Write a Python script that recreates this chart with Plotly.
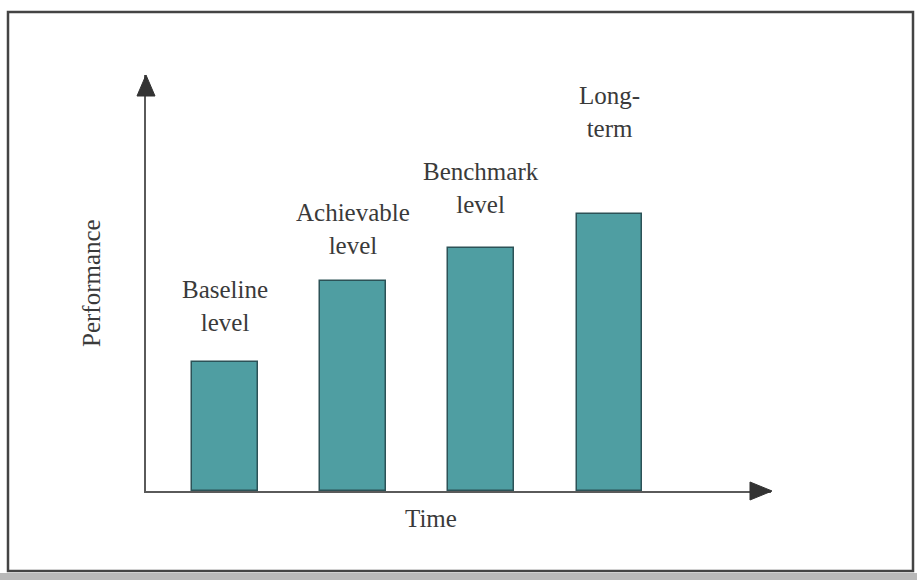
import plotly.graph_objects as go

# Stages of performance over time
stages = ["Baseline<br>level", "Achievable<br>level", "Benchmark<br>level", "Long-<br>term"]
positions = [1, 2, 3, 4]
performance = [3.1, 5.05, 5.85, 6.65]
label_gap = [30, 26, 34, 76]  # pixel gap between bar top and its caption

W, H = 917, 580
FONT = "Liberation Serif, Times New Roman, serif"
TEXT = "#3a3a3a"
AXIS = "#5a5a5a"

# plot region (pixels)
x0_px, x1_px = 146, 771
y_axis_px, y_top_px = 491, 75

fig = go.Figure()
fig.add_trace(go.Bar(
    x=positions, y=performance, width=0.514,
    marker=dict(color="#4f9ea2", line=dict(color="#2c5257", width=1.5)),
    hoverinfo="skip", showlegend=False,
))

for xv, yv, txt, gap in zip(positions, performance, stages, label_gap):
    fig.add_annotation(x=xv, y=yv, text=txt, showarrow=False, yanchor="bottom",
                       yshift=gap - 6, font=dict(family=FONT, size=25, color=TEXT))

fig.add_annotation(x=431 / W, y=1 - 518 / H, xref="paper", yref="paper", text="Time",
                   xanchor="center", yanchor="middle",
                   showarrow=False, font=dict(family=FONT, size=25, color=TEXT))
fig.add_annotation(x=92 / W, y=1 - 283 / H, xref="paper", yref="paper", text="Performance",
                   xanchor="center", yanchor="middle",
                   textangle=-90, showarrow=False, font=dict(family=FONT, size=25, color=TEXT))

def px(x, y):
    return f"{x / W:.5f},{1 - y / H:.5f}"

# arrowheads on the axes
fig.add_shape(type="path", xref="paper", yref="paper",
              path=f"M{px(146, 75)} L{px(137, 96)} L{px(155, 96)} Z",
              fillcolor="#333", line=dict(color="#333", width=1))
fig.add_shape(type="path", xref="paper", yref="paper",
              path=f"M{px(772, 491)} L{px(750, 482)} L{px(750, 500)} Z",
              fillcolor="#333", line=dict(color="#333", width=1))

# frame around the figure
fig.add_shape(type="rect", xref="paper", yref="paper",
              x0=8 / W, x1=913 / W, y0=1 - 571 / H, y1=1 - 12 / H,
              line=dict(color="#444", width=2.5), fillcolor="rgba(0,0,0,0)", layer="below")
fig.add_shape(type="rect", xref="paper", yref="paper",
              x0=0, x1=1, y0=0, y1=1 - 573 / H,
              line=dict(width=0), fillcolor="#b9b9b9", layer="below")

fig.update_layout(
    width=W, height=H, margin=dict(l=0, r=0, t=0, b=0),
    paper_bgcolor="white", plot_bgcolor="rgba(0,0,0,0)",
    xaxis=dict(domain=[x0_px / W, x1_px / W], range=[0.384, 5.26],
               showgrid=False, zeroline=False, showticklabels=False, ticks="",
               showline=True, linecolor=AXIS, linewidth=2, automargin=False),
    yaxis=dict(domain=[1 - y_axis_px / H, 1 - y_top_px / H], range=[0, 10],
               showgrid=False, zeroline=False, showticklabels=False, ticks="",
               showline=True, linecolor=AXIS, linewidth=2, automargin=False),
    bargap=0,
)

fig.write_html("out.html")
